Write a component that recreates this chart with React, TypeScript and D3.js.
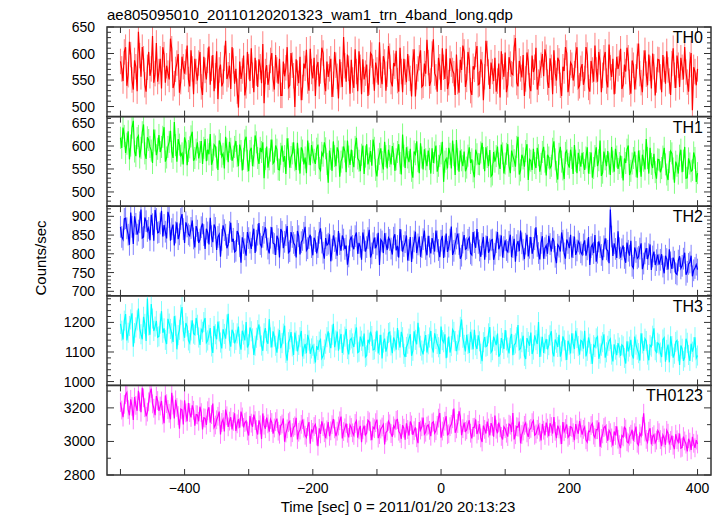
import React from "react";
import * as d3 from "d3";

const TITLE = "ae805095010_20110120201323_wam1_trn_4band_long.qdp";
const X_LABEL = "Time [sec] 0 = 2011/01/20 20:13:23";
const Y_LABEL = "Counts/sec";
const BAND_NAMES = ["TH0", "TH1", "TH2", "TH3", "TH0123"];
const BAND_COLORS = ["#ff0000", "#00ff00", "#0000ff", "#00ffff", "#ff00ff"];
const TIME_START = -500;
const TIME_STEP = 2;
const X_DOMAIN = [-521, 421];
const X_TICKS = [-500, -400, -300, -200, -100, 0, 100, 200, 300, 400];
const X_TICK_LABELS = [-400, -200, 0, 200, 400];

const Y_DOMAINS = [[481, 650], [469, 664], [688, 927], [987, 1290], [2800, 3334]];
const Y_TICK_LABELS = [[500, 550, 600, 650], [500, 550, 600, 650], [700, 750, 800, 850, 900], [1000, 1100, 1200], [2800, 3000, 3200]];
const Y_MINOR_STEPS = [10, 10, 10, 20, 100];
const ERRORS = [24, 24, 29, 34, 56];

const TH0 = [
  585,571,548,603,612,539,560,622,598,550,532,587,575,529,641,596,556,612,590,541,528,574,603,558,571,633,545,562,620,547,
  566,590,534,612,598,545,577,563,551,628,609,535,543,570,582,599,526,547,594,575,562,584,615,551,538,606,571,523,590,566,
  549,582,603,537,522,594,568,551,587,613,541,572,597,529,558,604,514,569,579,538,546,591,624,552,560,577,533,612,586,543,
  571,529,498,585,552,567,596,521,539,603,575,548,610,559,527,592,563,537,589,575,544,618,506,566,578,541,555,587,601,552,
  532,597,569,543,590,521,521,585,557,573,612,536,540,601,578,558,499,589,563,544,594,512,536,581,572,607,548,530,609,566,
  553,592,520,574,584,538,567,611,601,546,529,585,556,571,590,518,542,603,578,557,515,589,560,537,631,577,547,598,572,524,
  588,550,535,608,566,529,604,574,523,589,551,563,579,520,546,601,597,566,530,583,569,541,621,559,542,595,584,530,561,614,
  595,547,538,582,576,605,549,528,611,566,527,590,565,546,599,572,553,519,584,608,519,556,571,592,606,537,540,581,562,626,
  583,539,548,599,627,563,556,528,592,575,531,610,574,552,609,533,545,591,580,568,562,522,598,547,526,588,569,615,603,537,
  551,603,587,530,522,576,570,598,614,541,543,589,579,512,556,624,600,565,533,583,566,548,592,528,548,581,517,604,575,556,
  602,527,541,593,580,562,560,611,629,545,538,586,571,555,597,520,552,602,584,539,529,596,565,574,611,532,546,563,578,599,
  557,608,593,546,535,591,574,523,606,563,549,592,586,540,520,575,567,612,601,527,544,583,578,549,562,597,612,535,539,572,
  580,541,553,612,597,536,528,586,569,547,615,569,547,603,584,527,559,592,603,548,536,617,573,556,590,523,548,594,571,582,
  609,533,541,579,566,611,592,546,524,587,578,532,556,595,619,562,545,527,582,606,561,540,598,572,534,600,575,521,550,589,
  588,556,527,597,570,543,604,569,548,522,581,610,559,535,596,578,537,592,574,551,612,565,546,528,579,601,493,574,566,540,
  571,
];

const TH1 = [
  618,596,640,622,585,605,632,571,601,640,655,588,578,617,622,575,596,630,647,584,572,619,613,598,590,563,636,612,580,594,
  624,587,598,620,641,566,575,598,609,633,588,574,652,602,566,615,603,579,584,560,619,607,558,589,597,621,631,568,574,592,
  608,573,587,611,561,596,615,567,592,582,626,559,570,603,599,575,548,612,604,577,583,551,620,593,565,609,594,568,577,598,
  611,578,556,603,589,547,572,612,620,568,545,589,596,556,579,623,608,574,561,596,587,608,530,572,599,553,571,590,614,562,
  566,601,592,549,548,583,601,566,578,539,617,593,553,576,584,608,569,548,607,571,540,597,590,560,575,541,612,583,558,602,
  586,570,561,594,603,552,547,585,579,608,595,561,520,590,572,546,610,578,556,597,588,533,566,575,599,588,543,612,577,559,
  592,567,554,598,618,573,568,545,581,601,539,577,604,560,573,589,557,614,596,548,534,571,583,595,565,549,609,578,551,592,
  578,560,600,583,546,571,587,604,563,538,625,579,552,597,575,565,594,546,531,588,582,610,567,541,606,575,549,593,571,556,
  590,572,540,595,563,586,601,544,557,578,584,609,522,566,572,551,596,583,551,612,580,537,613,571,544,590,569,556,588,545,
  553,579,597,563,571,545,532,592,582,561,560,586,607,574,545,597,576,556,591,534,538,587,566,578,599,562,550,603,584,540,
  562,583,604,557,541,590,578,569,555,598,620,538,547,581,573,555,589,604,526,571,568,548,594,563,552,596,580,544,561,587,
  598,566,536,581,575,552,557,594,610,571,544,527,583,598,566,549,528,585,590,561,553,592,574,539,602,568,541,585,569,555,
  585,563,548,575,597,540,563,586,531,552,578,597,556,569,612,535,542,588,571,556,589,562,537,598,566,544,594,577,550,563,
  579,554,525,573,563,592,601,537,546,562,574,588,556,531,590,567,533,581,568,549,615,574,540,596,561,552,583,543,529,571,
  570,543,552,577,596,560,538,526,565,589,584,551,520,566,557,540,579,592,543,568,598,530,531,573,562,545,548,586,574,522,
  541,
];

const TH2 = [
  872,845,838,893,895,868,851,824,910,872,826,900,880,851,862,884,918,842,845,897,887,861,869,836,904,879,835,917,893,856,
  858,881,915,846,877,859,841,912,898,835,866,878,822,857,884,839,852,893,906,866,829,884,873,852,848,869,889,841,817,874,
  862,829,838,871,881,850,813,867,857,825,896,847,831,878,869,810,845,852,792,837,876,863,851,815,824,858,883,832,840,805,
  808,861,853,820,776,844,829,812,795,858,842,830,813,849,867,802,835,851,882,826,819,845,856,871,838,814,801,843,871,829,
  826,797,848,839,790,866,859,815,832,850,874,803,807,858,845,829,823,790,861,847,798,831,837,856,872,809,815,842,851,818,
  796,843,834,801,818,856,868,830,803,787,842,823,827,852,780,811,849,834,815,795,861,826,808,849,838,813,822,771,793,836,
  846,821,812,847,857,800,829,819,784,857,836,806,818,842,864,790,801,828,843,815,825,856,770,838,833,802,855,827,810,843,
  837,814,798,843,852,809,821,790,866,836,806,821,831,849,782,810,845,778,816,833,859,802,825,846,792,818,839,862,813,796,
  848,819,801,842,827,806,862,833,810,791,835,848,789,820,854,805,819,838,873,797,808,827,841,854,826,787,795,830,850,812,
  815,837,843,801,797,858,831,816,866,829,809,792,826,845,784,820,847,803,812,836,838,784,800,831,858,812,822,849,790,818,
  836,810,805,832,851,791,818,840,779,823,834,807,862,828,811,786,827,851,793,816,845,800,816,839,871,821,802,785,829,847,
  787,815,822,800,848,826,806,842,833,792,775,824,819,806,857,835,801,787,838,829,815,851,790,818,846,797,809,833,827,804,
  798,825,836,795,812,845,770,818,825,802,850,779,803,833,818,797,783,820,841,812,808,775,918,846,794,828,813,789,860,815,
  790,812,822,789,776,830,808,795,835,768,762,817,805,788,792,814,828,759,774,801,815,786,799,825,757,793,806,770,783,798,
  771,784,799,766,748,795,786,758,812,777,760,790,779,748,745,782,794,761,768,787,803,744,752,773,777,795,740,756,762,771,
  758,
];

const TH3 = [
  1195,1172,1142,1206,1228,1139,1165,1188,1210,1231,1118,1164,1183,1207,1247,1179,1160,1143,1219,1195,1137,1281,1190,1158,1262,1213,1171,1186,1205,1150,
  1153,1196,1238,1165,1180,1141,1127,1212,1196,1178,1163,1134,1221,1189,1109,1157,1175,1226,1252,1170,1148,1198,1186,1139,1130,1173,1207,1162,1158,1215,
  1192,1149,1124,1176,1168,1201,1215,1132,1139,1158,1181,1119,1097,1188,1160,1143,1203,1170,1132,1112,1177,1161,1145,1193,1229,1138,1118,1175,1165,1129,
  1141,1163,1186,1127,1108,1172,1159,1139,1201,1115,1126,1183,1170,1146,1090,1121,1148,1174,1193,1152,1122,1104,1163,1181,1137,1128,1211,1149,1115,1170,
  1152,1121,1098,1145,1174,1113,1130,1162,1189,1097,1071,1133,1143,1167,1119,1090,1166,1138,1102,1124,1150,1171,1085,1111,1127,1096,1158,1139,1094,1112,
  1121,1094,1065,1120,1107,1135,1142,1078,1086,1108,1128,1150,1170,1131,1113,1158,1195,1116,1139,1169,1104,1143,1161,1097,1125,1152,1178,1110,1092,1140,
  1146,1129,1117,1160,1183,1098,1101,1152,1138,1119,1162,1083,1088,1141,1131,1169,1154,1107,1109,1135,1172,1095,1124,1158,1078,1132,1145,1101,1119,1164,
  1167,1122,1096,1149,1136,1108,1181,1140,1115,1168,1150,1094,1083,1117,1128,1145,1160,1087,1104,1170,1141,1126,1199,1149,1121,1105,1092,1136,1157,1098,
  1126,1149,1171,1115,1098,1163,1144,1127,1116,1093,1186,1140,1133,1160,1079,1115,1152,1098,1120,1176,1168,1137,1103,1125,1139,1185,1210,1148,1124,1102,
  1158,1127,1097,1168,1142,1109,1175,1123,1110,1156,1136,1094,1069,1133,1150,1118,1121,1163,1184,1099,1106,1152,1138,1123,1162,1084,1093,1147,1131,1110,
  1174,1139,1115,1095,1147,1161,1089,1124,1129,1150,1191,1108,1112,1133,1155,1087,1076,1147,1134,1121,1166,1093,1108,1156,1140,1127,1201,1083,1118,1151,
  1097,1128,1144,1109,1123,1156,1170,1099,1085,1142,1131,1117,1158,1084,1102,1153,1139,1106,1073,1138,1125,1095,1163,1129,1110,1172,1147,1120,1091,1139,
  1136,1111,1172,1085,1104,1149,1128,1093,1060,1123,1117,1146,1152,1077,1095,1121,1133,1160,1081,1099,1121,1137,1144,1091,1068,1126,1108,1089,1130,1115,
  1087,1124,1119,1080,1061,1136,1102,1118,1141,1090,1078,1152,1125,1108,1096,1071,1163,1129,1104,1145,1137,1091,1072,1123,1118,1155,1180,1106,1099,1131,
  1126,1098,1083,1142,1148,1067,1107,1125,1065,1153,1120,1081,1094,1134,1139,1103,1056,1122,1111,1070,1082,1145,1131,1090,1070,1128,1101,1116,1150,1079,
  1088,
];

const TH0123 = [
  3232,3187,3145,3221,3278,3292,3190,3156,3251,3209,3128,3264,3215,3183,3302,3236,3174,3320,3260,3201,3150,3175,3236,3288,3315,3224,3198,3157,3270,3244,
  3182,3211,3241,3158,3109,3274,3225,3190,3168,3132,3290,3217,3137,3248,3203,3154,3076,3193,3188,3101,3245,3170,3120,3229,3172,3143,3215,3186,3094,3160,
  3158,3120,3207,3172,3071,3141,3139,3098,3183,3204,3112,3160,3226,3083,3098,3129,3150,3178,3042,3113,3131,3059,3190,3153,3087,3121,3144,3072,3119,3168,
  3062,3105,3133,3082,3178,3146,3084,3113,3121,3062,3035,3152,3109,3088,3160,3124,3071,3041,3126,3099,3015,3167,3097,3076,3142,3105,3058,3131,3113,3047,
  3080,3118,3136,3061,3043,3095,3104,3137,2998,3050,3075,3112,3121,3026,3052,3084,3093,3141,3012,3055,3068,3102,3130,3079,3037,3024,3089,3115,2986,3072,
  3054,3089,3101,3032,2972,3078,3045,3120,3088,3052,3020,3069,3116,3031,3063,3100,3134,3075,3031,3061,3092,3123,3148,3018,3059,3081,3107,3049,3024,3098,
  3083,3051,3036,3107,3122,3022,3069,3093,2995,3071,3094,3038,3050,3126,3117,3062,3007,3085,3076,3112,3130,3020,3041,3074,3086,3101,2982,3053,3062,3120,
  3105,3047,3028,3093,3079,3126,3131,3061,3048,3016,3097,3079,3010,3108,3071,3035,3119,3098,3039,3064,3084,3022,2990,3115,3068,3087,3142,3043,3055,3091,
  3098,3066,3031,3110,3117,3050,3064,3096,3139,3170,3022,3062,3089,3121,3150,3040,3046,3088,3102,3135,3196,3052,3075,3107,3180,3146,3037,3076,3112,3060,
  3069,3102,3126,3049,3018,3083,3085,3131,3044,3066,3103,3021,2997,3094,3072,3047,3118,3080,3036,3109,3090,3028,3155,3073,3049,3112,3081,3030,3012,3088,
  3076,3049,3029,3103,3097,3056,3170,3012,3040,3088,3085,3118,2989,3041,3062,3096,3110,3051,3027,3070,3078,3112,3124,3037,3045,3072,3093,3055,3006,3104,
  3067,3036,3112,3079,3031,3108,3089,3047,3145,3060,3020,3094,3074,3039,2985,3116,3058,3077,3101,3025,3036,3088,3083,3052,3008,3103,3069,3046,3122,3080,
  3041,3072,3086,3010,2996,3061,3058,3095,3107,3038,3023,3070,3070,3114,2968,3018,3045,3083,3091,3047,3004,3066,3052,3021,2975,3059,3036,3090,3013,2981,
  2960,3035,3027,3084,3074,2998,2991,3031,3043,3070,3005,3052,3089,2989,2978,3047,3032,3090,3168,3056,3012,2995,3061,3078,2983,3029,3040,2992,3008,3065,
  3052,3011,2972,3038,3021,2980,3066,3049,2988,3006,3035,2977,2954,3043,3010,2995,3047,2960,2965,3029,3003,2984,2940,3016,2996,2950,3028,2989,2962,3008,
  2985,
];

const SERIES = [TH0, TH1, TH2, TH3, TH0123];

const W = 724;
const H = 516;
const LEFT = 107;
const RIGHT = 711;
const TOP = 27;
const BOTTOM = 475;
const FONT = "'Liberation Sans', Arial, Helvetica, sans-serif";
const AXIS_COLOR = "#333";

export default function App() {
  const x = d3.scaleLinear().domain(X_DOMAIN).range([LEFT, RIGHT]);
  const nPanels = SERIES.length;
  const ph = (BOTTOM - TOP) / nPanels;

  const panels = SERIES.map((vals, i) => {
    const y0 = TOP + i * ph;
    const y1 = y0 + ph;
    const y = d3.scaleLinear().domain(Y_DOMAINS[i]).range([y1, y0]);
    const pts = vals.map((v, j) => [TIME_START + j * TIME_STEP, v] as [number, number]);
    const line = d3.line<[number, number]>().x((d) => x(d[0])).y((d) => y(d[1]));
    const err = ERRORS[i];
    const [lo, hi] = Y_DOMAINS[i];
    const minorStart = Math.ceil(lo / Y_MINOR_STEPS[i]) * Y_MINOR_STEPS[i];
    const minors = d3.range(minorStart, hi + 0.001, Y_MINOR_STEPS[i]);
    const color = BAND_COLORS[i];
    const clipId = `clip${i}`;
    const errPath = pts
      .map((d) => `M${x(d[0]).toFixed(2)},${y(d[1] - err).toFixed(2)}V${y(d[1] + err).toFixed(2)}`)
      .join("");
    return (
      <g key={i}>
        <defs>
          <clipPath id={clipId}>
            <rect x={LEFT} y={y0} width={RIGHT - LEFT} height={ph} />
          </clipPath>
        </defs>
        <g clipPath={`url(#${clipId})`}>
          <path d={errPath} fill="none" stroke={color} strokeOpacity={0.5} strokeWidth={1} />
          <path d={line(pts) || ""} fill="none" stroke={color} strokeWidth={1.2} />
        </g>
        {minors.map((v) => {
          const major = Y_TICK_LABELS[i].includes(v);
          const len = major ? 7 : 4;
          return (
            <g key={`yt${v}`} stroke={AXIS_COLOR} strokeWidth={1}>
              <line x1={LEFT} x2={LEFT + len} y1={y(v)} y2={y(v)} />
              <line x1={RIGHT} x2={RIGHT - len} y1={y(v)} y2={y(v)} />
            </g>
          );
        })}
        {Y_TICK_LABELS[i].map((v) => (
          <text key={`yl${v}`} x={LEFT - 12} y={y(v)} dy="0.36em" textAnchor="end" fontSize={14} fontFamily={FONT} fill="#000">
            {v}
          </text>
        ))}
        {X_TICKS.map((t) => (
          <g key={`xt${t}`} stroke={AXIS_COLOR} strokeWidth={1}>
            <line x1={x(t)} x2={x(t)} y1={y0} y2={y0 + 6} />
            <line x1={x(t)} x2={x(t)} y1={y1} y2={y1 - 6} />
          </g>
        ))}
        <rect x={LEFT} y={y0} width={RIGHT - LEFT} height={ph} fill="none" stroke={AXIS_COLOR} strokeWidth={1.5} />
        <text x={703} y={y0 + 16} textAnchor="end" fontSize={16} fontFamily={FONT} fill="#000">
          {BAND_NAMES[i]}
        </text>
      </g>
    );
  });

  return (
    <svg width={W} height={H} style={{ position: "absolute", left: 0, top: 0, background: "#fff" }}>
      <rect x={0} y={0} width={W} height={H} fill="#fff" />
      <text x={LEFT} y={20} fontSize={15} fontFamily={FONT} fill="#000">
        {TITLE}
      </text>
      {panels}
      {X_TICK_LABELS.map((t) => (
        <text key={`xl${t}`} x={x(t)} y={493} textAnchor="middle" fontSize={14} fontFamily={FONT} fill="#000">
          {t < 0 ? `\u2212${Math.abs(t)}` : t}
        </text>
      ))}
      <text x={398} y={512} textAnchor="middle" fontSize={15} fontFamily={FONT} fill="#000">
        {X_LABEL}
      </text>
      <text transform={`translate(46, 258) rotate(-90)`} textAnchor="middle" fontSize={15} fontFamily={FONT} fill="#000">
        {Y_LABEL}
      </text>
    </svg>
  );
}
